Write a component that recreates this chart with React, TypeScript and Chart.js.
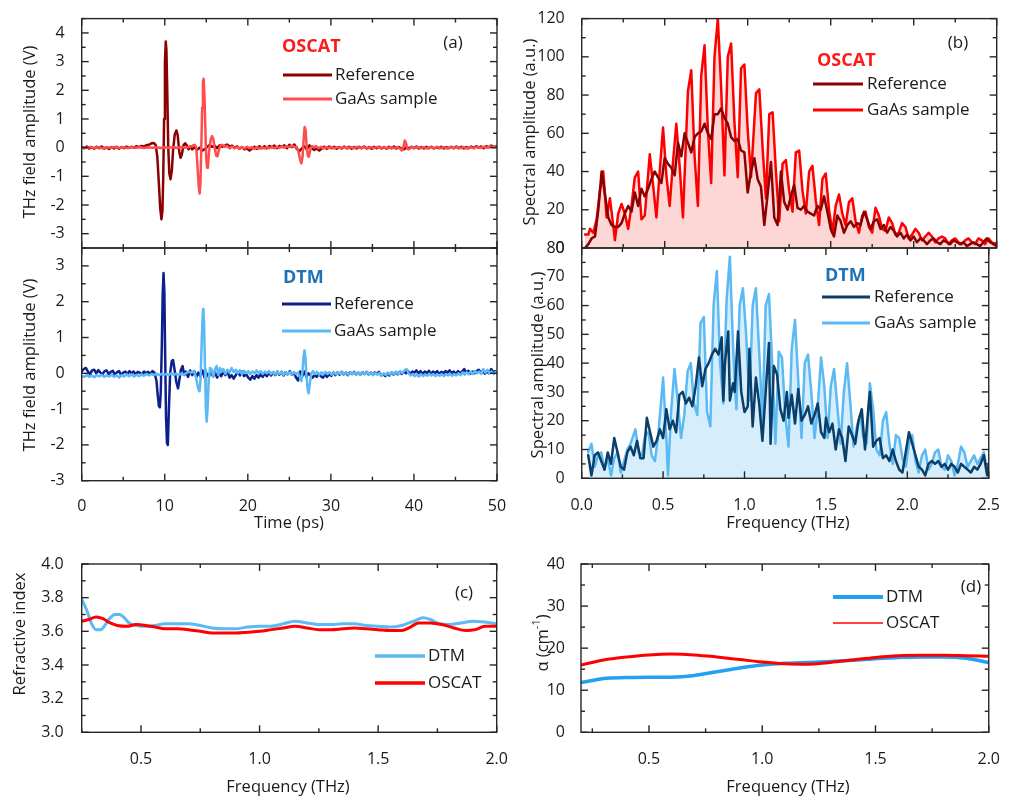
import React, { useEffect, useRef } from 'react';
import { Chart, registerables } from 'chart.js';
Chart.register(...registerables);

const W = 1010;
const H = 797;
const XH = 40;
const FONT = '"Open Sans", "DejaVu Sans", sans-serif';

// ---------- tick labels ----------
const timeTicks = [0, 10, 20, 30, 40, 50];
const aTopYTicks = [-3, -2, -1, 0, 1, 2, 3, 4];
const aBotYTicks = [-3, -2, -1, 0, 1, 2, 3];
const freqTicksB = [0, 0.5, 1.0, 1.5, 2.0, 2.5];
const bTopYTicks = [0, 20, 40, 60, 80, 100, 120];
const bBotYTicks = [0, 10, 20, 30, 40, 50, 60, 70, 80];
const freqTicksCD = [0.5, 1.0, 1.5, 2.0];
const cYTicks = [3.0, 3.2, 3.4, 3.6, 3.8, 4.0];
const dYTicks = [0, 10, 20, 30, 40];

// ---------- (a) time domain, OSCAT ----------
const oscatRefTime = [
[0,0.03],[0.3,-0.02],[0.6,0.04],[0.9,-0.03],[1.2,0.02],[1.5,-0.04],[1.8,0.03],[2.1,-0.02],[2.4,0.04],[2.7,-0.03],[3.0,0.01],[3.3,-0.05],[3.6,0.02],[3.9,-0.03],[4.2,0.03],[4.5,-0.04],[4.8,0.02],[5.1,-0.02],[5.4,0.04],[5.7,-0.01],[6.0,0.03],[6.3,0.0],[6.6,0.05],[6.9,0.02],[7.2,0.06],[7.5,0.04],[7.8,0.09],[8.1,0.1],[8.4,0.15],[8.7,0.16],[8.9,0.1],[9.1,-0.3],[9.3,-1.3],[9.45,-2.1],[9.6,-2.5],[9.72,-2.2],[9.82,-1.0],[9.92,1.0],[10.02,3.0],[10.12,3.7],[10.2,3.4],[10.3,2.0],[10.42,0.0],[10.55,-0.9],[10.7,-1.1],[10.85,-0.8],[11.0,-0.1],[11.2,0.45],[11.4,0.6],[11.55,0.45],[11.75,-0.15],[11.9,-0.35],[12.05,-0.25],[12.25,0.08],[12.45,0.15],[12.65,0.08],[12.85,-0.06],[13.05,0.04],[13.3,-0.06],[13.6,0.02],[13.9,-0.08],[14.2,0.0],[14.5,-0.1],[14.8,-0.06],[15.1,0.03],[15.4,0.09],[15.7,0.03],[16.0,0.07],[16.3,-0.02],[16.6,0.08],[16.9,0.03],[17.2,0.06],[17.5,0.11],[17.8,0.04],[18.1,0.07],[18.4,-0.01],[18.7,0.05],[19.0,-0.04],[19.3,0.02],[19.6,-0.06],[19.9,-0.02],[20.2,-0.1],[20.5,-0.03],[20.8,0.03],[21.1,-0.04],[21.4,0.05],[21.7,-0.02],[22.0,0.05],[22.3,-0.03],[22.6,0.06],[22.9,0.01],[23.2,0.07],[23.5,-0.02],[23.8,0.06],[24.1,0.02],[24.4,0.08],[24.7,-0.02],[25.0,0.1],[25.3,0.02],[25.6,0.11],[25.9,-0.04],[26.2,-0.12],[26.5,-0.03],[26.8,0.05],[27.1,-0.06],[27.4,0.08],[27.7,-0.02],[28.0,-0.08],[28.3,-0.03],[28.6,-0.1],[28.9,-0.03],[29.2,0.03],[29.5,-0.04],[29.8,0.04],[30.1,-0.02],[30.4,0.03],[30.7,-0.04],[31.0,0.02],[31.3,-0.03],[31.6,0.04],[31.9,-0.02],[32.2,0.03],[32.5,-0.04],[32.8,0.02],[33.1,-0.03],[33.4,0.03],[33.7,-0.02],[34.0,0.04],[34.3,-0.03],[34.6,0.02],[34.9,-0.04],[35.2,0.03],[35.5,-0.02],[35.8,0.03],[36.1,-0.03],[36.4,0.02],[36.7,-0.04],[37.0,0.03],[37.3,-0.02],[37.6,0.04],[37.9,-0.03],[38.2,0.02],[38.5,-0.03],[38.8,-0.06],[39.1,0.03],[39.4,-0.03],[39.7,0.03],[40.0,-0.02],[40.3,0.04],[40.6,-0.03],[40.9,0.02],[41.2,-0.03],[41.5,0.03],[41.8,-0.02],[42.1,0.03],[42.4,-0.03],[42.7,0.02],[43.0,-0.02],[43.3,0.03],[43.6,-0.03],[43.9,0.02],[44.2,-0.02],[44.5,0.03],[44.8,-0.02],[45.1,0.04],[45.4,-0.02],[45.7,0.03],[46.0,-0.03],[46.3,0.02],[46.6,-0.02],[46.9,0.04],[47.2,-0.01],[47.5,0.05],[47.8,0.0],[48.1,0.04],[48.4,-0.02],[48.7,0.05],[49.0,0.01],[49.3,0.07],[49.6,0.02],[50.0,0.05]
];
const oscatSampleTime = [
[0,0.01],[0.5,-0.01],[1.0,0.02],[1.5,-0.01],[2.0,0.01],[2.5,-0.02],[3.0,0.01],[3.5,0.0],[4.0,0.02],[4.5,-0.01],[5.0,0.01],[5.5,-0.01],[6.0,0.02],[6.5,0.0],[7.0,0.01],[7.5,-0.01],[8.0,0.01],[8.5,0.0],[9.0,0.01],[9.5,-0.01],[10.0,0.01],[10.5,0.0],[11.0,0.02],[11.5,-0.01],[12.0,0.02],[12.5,0.0],[13.0,0.03],[13.3,0.06],[13.6,0.1],[13.8,0.0],[13.95,-0.7],[14.1,-1.4],[14.2,-1.6],[14.3,-1.2],[14.4,0.0],[14.5,1.4],[14.6,2.3],[14.68,2.4],[14.78,1.8],[14.9,0.5],[15.0,-0.4],[15.1,-0.7],[15.2,-0.65],[15.35,-0.1],[15.55,0.3],[15.7,0.4],[15.85,0.3],[16.0,0.0],[16.2,-0.28],[16.35,-0.3],[16.5,-0.1],[16.7,0.06],[16.9,0.1],[17.2,0.03],[17.5,0.06],[17.8,-0.03],[18.1,0.04],[18.4,-0.02],[18.7,0.03],[19.0,-0.04],[19.3,0.02],[19.6,-0.03],[19.9,0.03],[20.2,-0.02],[20.5,0.02],[20.8,-0.05],[21.1,0.01],[21.4,-0.04],[21.7,0.02],[22.0,-0.03],[22.3,0.02],[22.6,-0.02],[22.9,0.03],[23.2,-0.02],[23.5,0.03],[23.8,-0.01],[24.1,0.04],[24.4,0.0],[24.7,0.05],[25.0,0.02],[25.3,0.06],[25.6,0.03],[25.9,0.02],[26.1,-0.15],[26.3,-0.42],[26.45,-0.55],[26.6,-0.3],[26.72,0.3],[26.84,0.72],[26.95,0.62],[27.08,0.05],[27.22,-0.28],[27.35,-0.32],[27.5,-0.1],[27.7,0.06],[27.9,0.02],[28.2,0.05],[28.5,-0.02],[28.8,0.03],[29.1,-0.03],[29.4,0.02],[29.7,-0.02],[30.0,0.03],[30.4,-0.03],[30.8,0.02],[31.2,-0.02],[31.6,0.03],[32.0,-0.03],[32.4,0.02],[32.8,-0.02],[33.2,0.03],[33.6,-0.02],[34.0,0.02],[34.4,-0.03],[34.8,0.02],[35.2,-0.02],[35.6,0.03],[36.0,-0.02],[36.4,0.02],[36.8,-0.03],[37.2,0.02],[37.6,-0.02],[38.0,0.02],[38.3,-0.03],[38.55,-0.1],[38.75,0.05],[38.9,0.25],[39.05,0.15],[39.2,-0.05],[39.4,-0.06],[39.7,0.02],[40.0,-0.02],[40.4,0.03],[40.8,-0.02],[41.2,0.02],[41.6,-0.03],[42.0,0.02],[42.4,-0.02],[42.8,0.03],[43.2,-0.02],[43.6,0.02],[44.0,-0.03],[44.4,0.02],[44.8,-0.02],[45.2,0.03],[45.6,-0.02],[46.0,0.02],[46.4,-0.03],[46.8,0.02],[47.2,-0.02],[47.6,0.03],[48.0,-0.01],[48.4,0.03],[48.8,0.0],[49.2,0.04],[49.6,0.01],[50.0,0.03]
];

// ---------- (a) time domain, DTM ----------
const dtmRefTime = [
[0,0.05],[0.25,0.12],[0.5,0.15],[0.75,0.05],[1.0,-0.03],[1.25,0.08],[1.5,0.1],[1.75,0.0],[2.0,0.09],[2.25,0.02],[2.5,-0.03],[2.75,0.06],[3.0,0.08],[3.25,-0.02],[3.5,0.04],[3.75,0.07],[4.0,-0.04],[4.25,0.03],[4.5,0.06],[4.75,-0.05],[5.0,0.02],[5.25,0.05],[5.5,-0.02],[5.75,0.06],[6.0,0.0],[6.25,0.05],[6.5,-0.03],[6.75,0.04],[7.0,0.02],[7.25,-0.04],[7.5,0.05],[7.75,0.0],[8.0,0.04],[8.25,-0.02],[8.5,0.06],[8.75,0.02],[9.0,-0.2],[9.15,-0.6],[9.3,-0.92],[9.42,-0.95],[9.52,-0.5],[9.65,0.8],[9.75,2.2],[9.85,2.8],[9.95,2.3],[10.05,0.5],[10.15,-1.2],[10.27,-1.95],[10.37,-2.0],[10.5,-1.0],[10.65,0.0],[10.85,0.35],[11.0,0.37],[11.15,0.15],[11.4,-0.25],[11.6,-0.42],[11.75,-0.2],[11.95,0.1],[12.15,0.2],[12.35,-0.05],[12.55,0.05],[12.8,-0.1],[13.05,0.08],[13.3,-0.05],[13.55,0.06],[13.8,-0.1],[14.05,0.02],[14.3,-0.08],[14.55,0.08],[14.8,-0.12],[15.05,0.0],[15.3,-0.1],[15.55,0.05],[15.8,-0.08],[16.05,0.02],[16.3,-0.12],[16.55,0.0],[16.8,-0.08],[17.05,0.05],[17.3,-0.05],[17.55,0.06],[17.8,-0.12],[18.05,-0.05],[18.3,-0.15],[18.55,-0.05],[18.8,0.04],[19.05,-0.06],[19.3,0.05],[19.55,-0.08],[19.8,-0.02],[20.05,-0.12],[20.3,-0.18],[20.55,-0.08],[20.8,-0.15],[21.05,-0.05],[21.3,-0.12],[21.55,-0.03],[21.8,-0.1],[22.05,0.0],[22.3,-0.08],[22.55,0.02],[22.8,-0.06],[23.05,0.03],[23.3,-0.05],[23.55,0.05],[23.8,-0.04],[24.05,0.04],[24.3,-0.06],[24.55,0.03],[24.8,-0.03],[25.05,0.06],[25.3,-0.04],[25.55,0.02],[25.8,-0.12],[26.05,-0.2],[26.3,0.05],[26.55,-0.08],[26.8,0.05],[27.05,-0.1],[27.3,0.0],[27.55,-0.06],[27.8,-0.12],[28.05,-0.05],[28.3,-0.1],[28.55,-0.02],[28.8,-0.08],[29.05,-0.12],[29.3,-0.03],[29.55,-0.1],[29.8,-0.02],[30.05,-0.07],[30.3,0.02],[30.55,-0.05],[30.8,0.03],[31.05,-0.04],[31.3,0.04],[31.55,-0.03],[31.8,0.02],[32.05,-0.05],[32.3,0.03],[32.55,-0.02],[32.8,0.04],[33.05,-0.03],[33.3,0.02],[33.55,-0.04],[33.8,0.03],[34.05,-0.02],[34.3,0.04],[34.55,-0.03],[34.8,0.02],[35.05,-0.04],[35.3,0.03],[35.55,-0.02],[35.8,0.04],[36.05,-0.06],[36.3,-0.02],[36.55,-0.08],[36.8,-0.01],[37.05,-0.06],[37.3,0.02],[37.55,-0.04],[37.8,0.03],[38.05,-0.03],[38.3,0.04],[38.55,-0.02],[38.8,0.05],[39.05,0.0],[39.3,0.06],[39.55,-0.02],[39.8,0.05],[40.05,0.02],[40.3,0.08],[40.55,0.0],[40.8,0.06],[41.05,-0.02],[41.3,0.05],[41.55,0.0],[41.8,0.07],[42.05,-0.02],[42.3,0.05],[42.55,0.01],[42.8,0.06],[43.05,-0.02],[43.3,0.04],[43.55,0.0],[43.8,0.06],[44.05,0.02],[44.3,0.08],[44.55,0.0],[44.8,0.05],[45.05,-0.02],[45.3,0.06],[45.55,0.01],[45.8,0.05],[46.05,0.12],[46.3,0.02],[46.55,0.07],[46.8,-0.01],[47.05,0.05],[47.3,0.0],[47.55,0.06],[47.8,0.1],[48.05,0.02],[48.3,0.06],[48.55,-0.01],[48.8,0.05],[49.05,0.0],[49.3,0.12],[49.55,0.03],[49.8,0.06],[50.0,0.02]
];
const dtmSampleTime = [
[0,-0.08],[0.3,-0.1],[0.6,-0.05],[0.9,-0.1],[1.2,-0.06],[1.5,-0.11],[1.8,-0.05],[2.1,-0.09],[2.4,-0.04],[2.7,-0.1],[3.0,-0.06],[3.3,-0.09],[3.6,-0.04],[3.9,-0.1],[4.2,-0.05],[4.5,-0.12],[4.8,-0.05],[5.1,-0.09],[5.4,-0.03],[5.7,-0.08],[6.0,-0.03],[6.3,-0.09],[6.6,-0.04],[6.9,-0.08],[7.2,-0.03],[7.5,-0.07],[7.8,-0.02],[8.1,-0.06],[8.4,-0.02],[8.7,-0.05],[9.0,-0.01],[9.3,-0.05],[9.6,-0.02],[9.9,-0.04],[10.2,-0.02],[10.5,-0.05],[10.8,0.0],[11.1,-0.04],[11.4,-0.01],[11.7,-0.05],[12.0,0.0],[12.3,-0.04],[12.6,0.01],[12.9,0.04],[13.2,0.02],[13.5,0.06],[13.75,-0.1],[13.95,-0.35],[14.1,-0.48],[14.2,-0.5],[14.32,-0.1],[14.45,0.9],[14.58,1.7],[14.65,1.8],[14.73,1.4],[14.85,0.1],[14.95,-1.0],[15.05,-1.35],[15.15,-1.0],[15.3,-0.2],[15.45,0.15],[15.65,0.1],[15.85,-0.1],[16.05,0.12],[16.25,0.2],[16.45,-0.05],[16.65,0.15],[16.85,0.05],[17.05,0.12],[17.3,-0.02],[17.55,0.1],[17.8,0.02],[18.05,0.15],[18.3,0.03],[18.55,0.1],[18.8,0.0],[19.05,0.08],[19.3,-0.02],[19.55,0.07],[19.8,0.0],[20.05,0.06],[20.3,-0.02],[20.55,0.05],[20.8,0.0],[21.05,0.08],[21.3,0.0],[21.55,0.06],[21.8,-0.02],[22.05,0.05],[22.3,0.0],[22.55,0.06],[22.8,-0.02],[23.05,0.04],[23.3,-0.03],[23.55,0.05],[23.8,-0.02],[24.05,0.04],[24.3,-0.04],[24.55,0.03],[24.8,-0.02],[25.05,0.04],[25.3,-0.03],[25.55,0.03],[25.8,-0.02],[26.05,0.02],[26.25,-0.1],[26.45,-0.22],[26.58,0.05],[26.72,0.5],[26.83,0.64],[26.93,0.45],[27.05,-0.05],[27.2,-0.45],[27.32,-0.56],[27.45,-0.3],[27.65,0.0],[27.85,0.06],[28.1,-0.02],[28.35,0.04],[28.6,-0.04],[28.85,0.03],[29.1,-0.03],[29.35,0.04],[29.6,-0.02],[29.85,0.03],[30.1,-0.04],[30.35,0.02],[30.6,-0.03],[30.85,0.03],[31.1,-0.02],[31.35,0.04],[31.6,-0.03],[31.85,0.02],[32.1,-0.04],[32.35,0.03],[32.6,-0.02],[32.85,0.03],[33.1,-0.03],[33.35,0.02],[33.6,-0.04],[33.85,0.03],[34.1,-0.02],[34.35,0.04],[34.6,-0.03],[34.85,0.02],[35.1,-0.05],[35.35,0.02],[35.6,-0.04],[35.85,0.01],[36.1,-0.06],[36.35,0.0],[36.6,-0.05],[36.85,0.02],[37.1,-0.04],[37.35,0.03],[37.6,-0.03],[37.85,0.05],[38.1,-0.02],[38.35,0.06],[38.6,0.0],[38.85,0.08],[39.1,0.12],[39.35,0.0],[39.6,-0.06],[39.85,-0.02],[40.1,-0.08],[40.35,-0.03],[40.6,-0.09],[40.85,-0.02],[41.1,-0.08],[41.35,-0.03],[41.6,-0.07],[41.85,-0.01],[42.1,-0.06],[42.35,-0.02],[42.6,-0.08],[42.85,-0.03],[43.1,-0.07],[43.35,-0.02],[43.6,-0.08],[43.85,-0.03],[44.1,-0.06],[44.35,-0.01],[44.6,-0.07],[44.85,-0.02],[45.1,-0.06],[45.35,0.0],[45.6,-0.05],[45.85,0.02],[46.1,-0.04],[46.35,0.03],[46.6,-0.03],[46.85,0.05],[47.1,-0.02],[47.35,0.06],[47.6,0.0],[47.85,0.05],[48.1,-0.02],[48.35,0.12],[48.6,0.02],[48.85,0.1],[49.1,0.0],[49.35,0.05],[49.6,-0.02],[49.85,0.04],[50.0,0.0]
];

// ---------- (b) spectra, OSCAT ----------
const oscatRefSpec = [
[0.02,0],[0.04,2],[0.06,5],[0.08,6],[0.10,20],[0.12,40],[0.14,28],[0.16,16],[0.18,12],[0.20,11],[0.22,11],[0.24,13],[0.26,18],[0.28,22],[0.30,19],[0.32,29],[0.34,22],[0.36,31],[0.38,27],[0.40,31],[0.42,36],[0.44,40],[0.46,37],[0.48,34],[0.50,47],[0.52,44],[0.54,42],[0.56,38],[0.58,55],[0.60,48],[0.62,60],[0.64,55],[0.66,50],[0.68,58],[0.70,60],[0.72,61],[0.74,65],[0.76,60],[0.78,57],[0.80,70],[0.82,70],[0.84,73],[0.86,68],[0.88,65],[0.90,58],[0.92,56],[0.94,57],[0.96,51],[0.98,50],[1.00,29],[1.02,40],[1.04,47],[1.06,36],[1.08,32],[1.10,12],[1.12,28],[1.14,45],[1.16,16],[1.18,12],[1.20,40],[1.22,24],[1.24,20],[1.26,27],[1.28,33],[1.30,21],[1.32,20],[1.34,22],[1.36,19],[1.38,18],[1.40,17],[1.42,22],[1.44,20],[1.46,27],[1.48,19],[1.50,10],[1.52,6],[1.54,17],[1.56,14],[1.58,8],[1.60,12],[1.62,14],[1.64,11],[1.66,13],[1.68,12],[1.70,19],[1.72,15],[1.74,10],[1.76,14],[1.78,15],[1.80,10],[1.82,12],[1.84,8],[1.86,11],[1.88,9],[1.90,6],[1.92,8],[1.94,5],[1.96,7],[1.98,4],[2.00,6],[2.02,3],[2.04,5],[2.06,4],[2.08,2],[2.10,4],[2.12,5],[2.14,3],[2.16,2],[2.18,4],[2.20,3],[2.22,2],[2.24,4],[2.26,3],[2.28,2],[2.30,3],[2.32,1],[2.34,2],[2.36,3],[2.38,2],[2.40,1],[2.42,3],[2.44,5],[2.46,3],[2.48,2],[2.50,1]
];
const oscatSampleSpec = [
[0.02,7],[0.04,7],[0.05,10],[0.07,8],[0.09,15],[0.11,30],[0.13,40],[0.15,16],[0.17,26],[0.19,12],[0.20,4],[0.22,18],[0.24,23],[0.26,18],[0.28,10],[0.30,22],[0.32,37],[0.34,40],[0.36,15],[0.38,17],[0.41,49],[0.43,33],[0.45,16],[0.47,40],[0.49,63],[0.51,38],[0.53,22],[0.55,45],[0.57,65],[0.59,43],[0.61,16],[0.64,82],[0.66,93],[0.68,48],[0.70,22],[0.72,90],[0.74,106],[0.76,62],[0.78,34],[0.80,100],[0.82,120],[0.84,84],[0.86,38],[0.88,100],[0.90,107],[0.92,66],[0.94,37],[0.96,94],[0.98,96],[1.00,62],[1.02,37],[1.05,81],[1.07,83],[1.09,52],[1.11,26],[1.13,70],[1.15,71],[1.17,40],[1.19,14],[1.21,44],[1.23,46],[1.25,30],[1.27,19],[1.29,50],[1.31,51],[1.33,30],[1.35,18],[1.37,40],[1.39,43],[1.41,25],[1.43,12],[1.45,36],[1.47,39],[1.49,20],[1.51,8],[1.53,22],[1.55,28],[1.57,18],[1.59,12],[1.61,24],[1.63,26],[1.65,14],[1.67,8],[1.69,17],[1.71,19],[1.73,11],[1.75,8],[1.77,21],[1.79,17],[1.81,10],[1.83,9],[1.85,16],[1.87,13],[1.89,7],[1.91,8],[1.93,13],[1.95,11],[1.97,5],[1.99,7],[2.01,10],[2.03,8],[2.05,4],[2.07,6],[2.09,8],[2.11,6],[2.13,3],[2.15,5],[2.17,6],[2.19,5],[2.21,2],[2.23,4],[2.25,5],[2.27,3],[2.29,2],[2.31,4],[2.33,5],[2.35,3],[2.37,2],[2.39,5],[2.41,4],[2.43,2],[2.45,5],[2.47,3],[2.49,2],[2.50,3]
];

// ---------- (b) spectra, DTM ----------
const dtmRefSpec = [
[0.04,8],[0.06,1],[0.08,8],[0.10,9],[0.12,6],[0.14,3],[0.16,9],[0.18,5],[0.20,14],[0.22,9],[0.24,4],[0.26,3],[0.28,9],[0.30,11],[0.32,8],[0.34,13],[0.36,7],[0.38,7],[0.40,21],[0.42,16],[0.44,11],[0.46,13],[0.48,17],[0.50,14],[0.52,24],[0.54,17],[0.56,20],[0.58,16],[0.60,29],[0.62,30],[0.64,26],[0.66,28],[0.68,25],[0.70,32],[0.72,42],[0.74,32],[0.76,38],[0.78,40],[0.80,43],[0.82,45],[0.84,43],[0.86,49],[0.87,27],[0.88,40],[0.90,51],[0.91,27],[0.93,33],[0.94,30],[0.96,51],[0.98,30],[1.00,23],[1.02,25],[1.03,45],[1.05,18],[1.07,35],[1.09,26],[1.11,13],[1.13,30],[1.15,47],[1.16,12],[1.18,39],[1.20,36],[1.22,24],[1.24,20],[1.26,30],[1.27,21],[1.29,29],[1.31,19],[1.33,31],[1.35,20],[1.37,22],[1.39,25],[1.41,19],[1.43,22],[1.45,26],[1.47,16],[1.49,14],[1.50,21],[1.52,16],[1.54,19],[1.56,10],[1.58,17],[1.60,14],[1.62,6],[1.64,18],[1.66,15],[1.68,12],[1.70,20],[1.72,24],[1.74,10],[1.76,24],[1.77,30],[1.79,11],[1.81,13],[1.83,14],[1.85,7],[1.87,8],[1.89,6],[1.91,10],[1.93,6],[1.95,3],[1.97,2],[1.99,9],[2.01,16],[2.03,12],[2.05,8],[2.07,4],[2.09,3],[2.11,1],[2.13,5],[2.15,6],[2.17,5],[2.19,6],[2.21,4],[2.23,5],[2.25,3],[2.27,5],[2.29,4],[2.31,2],[2.33,5],[2.35,4],[2.37,3],[2.39,2],[2.41,4],[2.43,3],[2.45,5],[2.47,8],[2.49,1],[2.50,5]
];
const dtmSampleSpec = [
[0.04,9],[0.06,12],[0.08,4],[0.10,8],[0.12,9],[0.14,3],[0.16,7],[0.18,1],[0.20,7],[0.22,9],[0.24,2],[0.26,6],[0.28,10],[0.30,12],[0.33,17],[0.35,9],[0.37,8],[0.39,15],[0.41,16],[0.43,8],[0.45,6],[0.47,15],[0.50,35],[0.52,14],[0.53,1],[0.55,24],[0.57,38],[0.59,27],[0.61,14],[0.63,22],[0.65,37],[0.67,40],[0.69,26],[0.71,22],[0.73,54],[0.75,56],[0.77,23],[0.79,18],[0.81,60],[0.83,72],[0.85,40],[0.87,26],[0.89,62],[0.91,77],[0.93,45],[0.95,24],[0.97,60],[0.99,66],[1.01,50],[1.03,27],[1.05,60],[1.07,66],[1.09,44],[1.11,20],[1.13,60],[1.15,64],[1.17,40],[1.19,12],[1.21,44],[1.23,42],[1.25,22],[1.27,11],[1.29,45],[1.31,55],[1.33,34],[1.35,14],[1.37,40],[1.39,43],[1.41,30],[1.43,14],[1.45,25],[1.47,42],[1.49,32],[1.51,14],[1.53,32],[1.55,38],[1.57,25],[1.59,12],[1.61,30],[1.63,40],[1.65,26],[1.67,11],[1.69,18],[1.71,22],[1.73,14],[1.75,12],[1.77,33],[1.79,24],[1.81,10],[1.83,8],[1.85,20],[1.87,23],[1.89,12],[1.91,5],[1.93,15],[1.95,14],[1.97,7],[1.99,4],[2.01,12],[2.03,15],[2.05,6],[2.07,2],[2.09,8],[2.11,10],[2.13,3],[2.15,5],[2.17,9],[2.19,10],[2.21,4],[2.23,3],[2.25,8],[2.27,6],[2.29,1],[2.31,5],[2.33,11],[2.35,9],[2.37,4],[2.39,6],[2.41,8],[2.43,5],[2.45,7],[2.47,9],[2.49,3],[2.50,4]
];

// ---------- (c) refractive index ----------
const dtmIndex = [
[0.25,3.79],[0.27,3.73],[0.29,3.65],[0.31,3.61],[0.33,3.61],[0.35,3.64],[0.37,3.68],[0.39,3.70],[0.41,3.70],[0.43,3.68],[0.45,3.65],[0.48,3.635],[0.52,3.63],[0.56,3.635],[0.60,3.645],[0.65,3.645],[0.70,3.645],[0.75,3.635],[0.80,3.62],[0.85,3.615],[0.90,3.615],[0.95,3.625],[1.00,3.63],[1.05,3.63],[1.10,3.645],[1.15,3.66],[1.20,3.65],[1.25,3.64],[1.30,3.64],[1.35,3.645],[1.40,3.645],[1.45,3.635],[1.50,3.63],[1.55,3.625],[1.60,3.635],[1.65,3.66],[1.69,3.68],[1.72,3.67],[1.76,3.645],[1.80,3.64],[1.85,3.65],[1.90,3.66],[1.95,3.655],[2.00,3.645]
];
const oscatIndex = [
[0.25,3.66],[0.28,3.67],[0.31,3.685],[0.34,3.675],[0.37,3.65],[0.40,3.635],[0.44,3.63],[0.48,3.64],[0.52,3.635],[0.56,3.625],[0.60,3.615],[0.65,3.615],[0.70,3.61],[0.75,3.6],[0.80,3.59],[0.85,3.59],[0.90,3.59],[0.95,3.595],[1.00,3.6],[1.05,3.61],[1.10,3.62],[1.15,3.63],[1.20,3.62],[1.25,3.61],[1.30,3.61],[1.35,3.615],[1.40,3.62],[1.45,3.615],[1.50,3.61],[1.55,3.605],[1.60,3.605],[1.63,3.62],[1.67,3.65],[1.72,3.65],[1.77,3.64],[1.82,3.62],[1.87,3.605],[1.91,3.61],[1.95,3.63],[2.00,3.63]
];

// ---------- (d) absorption ----------
const dtmAlpha = [
[0.2,11.8],[0.25,12.3],[0.3,12.8],[0.4,13.0],[0.5,13.1],[0.6,13.1],[0.7,13.5],[0.8,14.4],[0.9,15.3],[1.0,16.0],[1.1,16.4],[1.2,16.6],[1.3,16.8],[1.4,17.1],[1.5,17.5],[1.6,17.8],[1.7,17.9],[1.8,17.9],[1.9,17.6],[2.0,16.6]
];
const oscatAlpha = [
[0.2,16.0],[0.3,17.2],[0.4,17.9],[0.5,18.4],[0.6,18.6],[0.7,18.4],[0.8,17.9],[0.9,17.3],[1.0,16.7],[1.1,16.3],[1.2,16.2],[1.3,16.6],[1.4,17.2],[1.5,17.8],[1.6,18.2],[1.7,18.3],[1.8,18.3],[1.9,18.2],[2.0,18.1]
];

// ---------- colours ----------
const C_OSCAT_REF = '#8b0000';
const C_OSCAT_SAMPLE_A = '#ff4d4d';
const C_OSCAT_SAMPLE_B = '#ff0000';
const C_DTM_REF_A = '#0c1f8c';
const C_DTM_REF_B = '#0b3e68';
const C_DTM_SAMPLE = '#5bb9f4';
const C_DTM_D = '#21a1ef';
const C_RED = '#ff0000';
const C_OSCAT_LABEL = '#ff1a1a';
const C_DTM_LABEL = '#1c72b8';
const C_TEXT = '#1a1a1a';

const pts = (arr: number[][]) => arr.map(([x, y]) => ({ x, y }));

const framePlugin = {
  id: 'frame',
  afterDraw(chart: any, _a: any, o: any) {
    const { ctx, chartArea: ca } = chart;
    const xs = chart.scales.x;
    const ys = chart.scales.y;
    ctx.save();
    ctx.strokeStyle = '#262626';
    ctx.lineWidth = 1.4;
    const seg = (x1: number, y1: number, x2: number, y2: number) => {
      ctx.beginPath(); ctx.moveTo(x1, y1); ctx.lineTo(x2, y2); ctx.stroke();
    };
    const steps = (min: number, max: number, step: number) => {
      const out: number[] = [];
      for (let k = Math.ceil(min / step - 1e-6); k * step <= max + 1e-6; k++) out.push(k * step);
      return out;
    };
    const isMajor = (v: number, m: number) => Math.abs(v / m - Math.round(v / m)) < 1e-6;
    for (const v of steps(xs.min, xs.max, o.xMinor)) {
      const len = isMajor(v, o.xMajor) ? 7 : 4;
      const px = xs.getPixelForValue(v);
      seg(px, ca.bottom, px, ca.bottom - len);
      seg(px, ca.top, px, ca.top + len);
    }
    for (const v of steps(ys.min, ys.max, o.yMinor)) {
      const len = isMajor(v, o.yMajor) ? 7 : 4;
      const py = ys.getPixelForValue(v);
      seg(ca.left, py, ca.left + len, py);
      seg(ca.right, py, ca.right - len, py);
    }
    ctx.strokeRect(ca.left, ca.top, ca.right - ca.left, ca.bottom - ca.top);

    // legend lines
    ctx.lineCap = 'butt';
    for (const l of o.lines || []) {
      ctx.strokeStyle = l.color;
      ctx.lineWidth = l.width;
      seg(l.x1, l.y, l.x2, l.y);
    }
    // texts
    ctx.textBaseline = 'middle';
    for (const t of o.texts || []) {
      ctx.save();
      ctx.fillStyle = t.color || C_TEXT;
      ctx.translate(t.x, t.y);
      if (t.rot) ctx.rotate(-Math.PI / 2);
      const parts = t.parts || [{ text: t.text, size: t.size, dy: 0 }];
      const fontOf = (p: any) => `${t.bold ? 'bold ' : ''}${p.size || t.size}px ${FONT}`;
      let total = 0;
      for (const p of parts) { ctx.font = fontOf(p); total += ctx.measureText(p.text).width; }
      let x = t.align === 'left' ? 0 : -total / 2;
      ctx.textAlign = 'left';
      for (const p of parts) {
        ctx.font = fontOf(p);
        ctx.fillText(p.text, x, p.dy || 0);
        x += ctx.measureText(p.text).width;
      }
      ctx.restore();
    }
    ctx.restore();
  },
};

type Spec = {
  l: number; t: number; r: number; b: number;
  xMin: number; xMax: number; xTicks: number[]; xLabels: boolean; xMajor: number; xMinor: number; xFmt: (v: number) => string; xPad: number;
  yMin: number; yMax: number; yTicks: number[]; yMajor: number; yMinor: number; yFmt: (v: number) => string; yPad: number;
  datasets: any[]; texts: any[]; lines: any[];
};

function buildConfig(s: Spec): any {
  const tickFont = { family: FONT, size: 16 };
  return {
    type: 'line',
    data: { datasets: s.datasets },
    options: {
      responsive: false,
      animation: false,
      devicePixelRatio: 1,
      events: [],
      layout: { padding: { left: 0, top: s.t, right: W - s.r, bottom: H - s.b - XH } },
      elements: { point: { radius: 0 }, line: { borderJoinStyle: 'round', borderCapStyle: 'round' } },
      plugins: {
        legend: { display: false },
        tooltip: { enabled: false },
        filler: { drawTime: 'beforeDatasetsDraw' },
        frame: { xMajor: s.xMajor, xMinor: s.xMinor, yMajor: s.yMajor, yMinor: s.yMinor, texts: s.texts, lines: s.lines },
      },
      scales: {
        x: {
          type: 'linear', min: s.xMin, max: s.xMax,
          afterFit: (sc: any) => { sc.height = XH; },
          afterBuildTicks: (sc: any) => { sc.ticks = s.xTicks.map((v) => ({ value: v })); },
          grid: { display: false }, border: { display: false },
          ticks: { display: s.xLabels, padding: s.xPad, color: C_TEXT, font: tickFont, autoSkip: false, maxRotation: 0, minRotation: 0, callback: (v: any) => s.xFmt(Number(v)) },
        },
        y: {
          type: 'linear', min: s.yMin, max: s.yMax,
          afterFit: (sc: any) => { sc.width = s.l; },
          afterBuildTicks: (sc: any) => { sc.ticks = s.yTicks.map((v) => ({ value: v })); },
          grid: { display: false }, border: { display: false },
          ticks: { padding: s.yPad, color: C_TEXT, font: tickFont, autoSkip: false, callback: (v: any) => s.yFmt(Number(v)) },
        },
      },
    },
    plugins: [framePlugin],
  };
}

const intFmt = (v: number) => String(Math.round(v));
const f1 = (v: number) => v.toFixed(1);

const line = (data: number[][], color: string, width: number, extra: any = {}) => ({
  data: pts(data), borderColor: color, borderWidth: width, pointRadius: 0, fill: false, tension: 0, ...extra,
});

const legendText = (text: string, x: number, y: number) => ({ text, x, y, size: 17, align: 'left' });

const specs: Spec[] = [
  // (a) top: OSCAT time domain
  {
    l: 81.7, t: 17, r: 497, b: 248,
    xMin: 0, xMax: 50, xTicks: timeTicks, xLabels: false, xMajor: 10, xMinor: 5, xFmt: intFmt, xPad: 9,
    yMin: -3.5, yMax: 4.5, yTicks: aTopYTicks, yMajor: 1, yMinor: 0.5, yFmt: intFmt, yPad: 9,
    datasets: [line(oscatSampleTime, C_OSCAT_SAMPLE_A, 2.5), line(oscatRefTime, C_OSCAT_REF, 2.5)],
    texts: [
      { text: 'THz field amplitude (V)', x: 30, y: 132, size: 16.5, rot: true },
      { text: 'OSCAT', x: 282, y: 47, size: 18, bold: true, color: C_OSCAT_LABEL, align: 'left' },
      legendText('Reference', 335, 75),
      legendText('GaAs sample', 335, 99),
      { text: '(a)', x: 453, y: 43, size: 17 },
    ],
    lines: [
      { x1: 283, x2: 332, y: 75, color: C_OSCAT_REF, width: 3 },
      { x1: 283, x2: 332, y: 99, color: C_OSCAT_SAMPLE_A, width: 3 },
    ],
  },
  // (a) bottom: DTM time domain
  {
    l: 81.7, t: 248, r: 497, b: 480.7,
    xMin: 0, xMax: 50, xTicks: timeTicks, xLabels: true, xMajor: 10, xMinor: 5, xFmt: intFmt, xPad: 8,
    yMin: -3, yMax: 3.5, yTicks: aBotYTicks, yMajor: 1, yMinor: 0.5, yFmt: intFmt, yPad: 9,
    datasets: [line(dtmSampleTime, C_DTM_SAMPLE, 2.5), line(dtmRefTime, C_DTM_REF_A, 2.5)],
    texts: [
      { text: 'THz field amplitude (V)', x: 30, y: 365, size: 16.5, rot: true },
      { text: 'DTM', x: 283, y: 278, size: 18, bold: true, color: C_DTM_LABEL, align: 'left' },
      legendText('Reference', 334, 304),
      legendText('GaAs sample', 334, 331),
      { text: 'Time (ps)', x: 289, y: 523, size: 16.5 },
    ],
    lines: [
      { x1: 282, x2: 331, y: 304, color: C_DTM_REF_A, width: 3 },
      { x1: 282, x2: 331, y: 331, color: C_DTM_SAMPLE, width: 3 },
    ],
  },
  // (b) top: OSCAT spectra
  {
    l: 581.7, t: 16, r: 996.7, b: 248,
    xMin: 0, xMax: 2.5, xTicks: freqTicksB, xLabels: false, xMajor: 0.5, xMinor: 0.25, xFmt: f1, xPad: 10,
    yMin: 0, yMax: 120, yTicks: bTopYTicks, yMajor: 20, yMinor: 10, yFmt: intFmt, yPad: 9,
    datasets: [
      line(oscatRefSpec, C_OSCAT_REF, 2.5),
      line(oscatSampleSpec, C_OSCAT_SAMPLE_B, 2.5, { fill: 'origin', backgroundColor: 'rgba(252, 196, 196, 0.7)' }),
    ],
    texts: [
      { text: 'Spectral amplitude (a.u.)', x: 530, y: 132, size: 16.5, rot: true },
      { text: '(b)', x: 958, y: 43, size: 17 },
      { text: 'OSCAT', x: 817, y: 61, size: 18, bold: true, color: C_OSCAT_LABEL, align: 'left' },
      legendText('Reference', 867, 84),
      legendText('GaAs sample', 867, 110),
    ],
    lines: [
      { x1: 813, x2: 863, y: 84, color: C_OSCAT_REF, width: 3 },
      { x1: 813, x2: 863, y: 110, color: C_OSCAT_SAMPLE_B, width: 3 },
    ],
  },
  // (b) bottom: DTM spectra
  {
    l: 581.7, t: 248, r: 996.7, b: 478.3,
    xMin: 0, xMax: 2.5, xTicks: freqTicksB, xLabels: true, xMajor: 0.5, xMinor: 0.25, xFmt: f1, xPad: 10,
    yMin: 0, yMax: 80, yTicks: bBotYTicks, yMajor: 10, yMinor: 5, yFmt: intFmt, yPad: 9,
    datasets: [
      line(dtmRefSpec, C_DTM_REF_B, 2.5),
      line(dtmSampleSpec, C_DTM_SAMPLE, 2.5, { fill: 'origin', backgroundColor: 'rgba(200, 232, 251, 0.75)' }),
    ],
    texts: [
      { text: 'Spectral amplitude (a.u.)', x: 538, y: 365, size: 16.5, rot: true },
      { text: 'DTM', x: 825, y: 276, size: 18, bold: true, color: C_DTM_LABEL, align: 'left' },
      legendText('Reference', 874, 297),
      legendText('GaAs sample', 874, 323),
      { text: 'Frequency (THz)', x: 788, y: 523, size: 16.5 },
    ],
    lines: [
      { x1: 822, x2: 870, y: 297, color: C_DTM_REF_B, width: 3 },
      { x1: 822, x2: 870, y: 323, color: C_DTM_SAMPLE, width: 3 },
    ],
  },
  // (c) refractive index
  {
    l: 81.7, t: 564, r: 496.7, b: 732.3,
    xMin: 0.25, xMax: 2.0, xTicks: freqTicksCD, xLabels: true, xMajor: 0.5, xMinor: 0.25, xFmt: f1, xPad: 10,
    yMin: 3.0, yMax: 4.0, yTicks: cYTicks, yMajor: 0.2, yMinor: 0.1, yFmt: f1, yPad: 10,
    datasets: [
      line(oscatIndex, C_RED, 3, { tension: 0.4, cubicInterpolationMode: 'monotone' }),
      line(dtmIndex, C_DTM_SAMPLE, 3, { tension: 0.4, cubicInterpolationMode: 'monotone' }),
    ],
    texts: [
      { text: 'Refractive index', x: 20, y: 634, size: 16.5, rot: true },
      { text: '(c)', x: 464, y: 593, size: 17 },
      legendText('DTM', 428, 656),
      legendText('OSCAT', 428, 683),
      { text: 'Frequency (THz)', x: 288, y: 787, size: 16.5 },
    ],
    lines: [
      { x1: 375, x2: 425, y: 656, color: C_DTM_SAMPLE, width: 3.5 },
      { x1: 375, x2: 425, y: 683, color: C_RED, width: 3.5 },
    ],
  },
  // (d) absorption coefficient
  {
    l: 581, t: 564, r: 996.7, b: 732.3,
    xMin: 0.2, xMax: 2.0, xTicks: freqTicksCD, xLabels: true, xMajor: 0.5, xMinor: 0.25, xFmt: f1, xPad: 10,
    yMin: 0, yMax: 40, yTicks: dYTicks, yMajor: 10, yMinor: 5, yFmt: intFmt, yPad: 8,
    datasets: [
      line(oscatAlpha, C_RED, 3, { tension: 0.4, cubicInterpolationMode: 'monotone' }),
      line(dtmAlpha, C_DTM_D, 3.5, { tension: 0.4, cubicInterpolationMode: 'monotone' }),
    ],
    texts: [
      {
        x: 543, y: 643, size: 16.5, rot: true,
        parts: [{ text: 'α (cm', size: 16.5 }, { text: '-1', size: 11, dy: -6 }, { text: ')', size: 16.5 }],
      },
      { text: '(d)', x: 971, y: 587, size: 17 },
      legendText('DTM', 886, 597),
      legendText('OSCAT', 886, 623),
      { text: 'Frequency (THz)', x: 788, y: 787, size: 16.5 },
    ],
    lines: [
      { x1: 833, x2: 883, y: 597, color: C_DTM_D, width: 4 },
      { x1: 833, x2: 883, y: 623, color: C_RED, width: 1.5 },
    ],
  },
];

function PanelCanvas({ spec }: { spec: Spec }) {
  const ref = useRef<HTMLCanvasElement>(null);
  useEffect(() => {
    if (!ref.current) return;
    const chart = new Chart(ref.current, buildConfig(spec));
    return () => chart.destroy();
  }, [spec]);
  return (
    <canvas
      ref={ref}
      width={W}
      height={H}
      style={{ position: 'absolute', left: 0, top: 0, width: W, height: H }}
    />
  );
}

export default function App() {
  return (
    <div style={{ position: 'fixed', left: 0, top: 0, width: W, height: H, background: '#ffffff', overflow: 'hidden' }}>
      {specs.map((s, i) => (
        <PanelCanvas key={i} spec={s} />
      ))}
    </div>
  );
}
